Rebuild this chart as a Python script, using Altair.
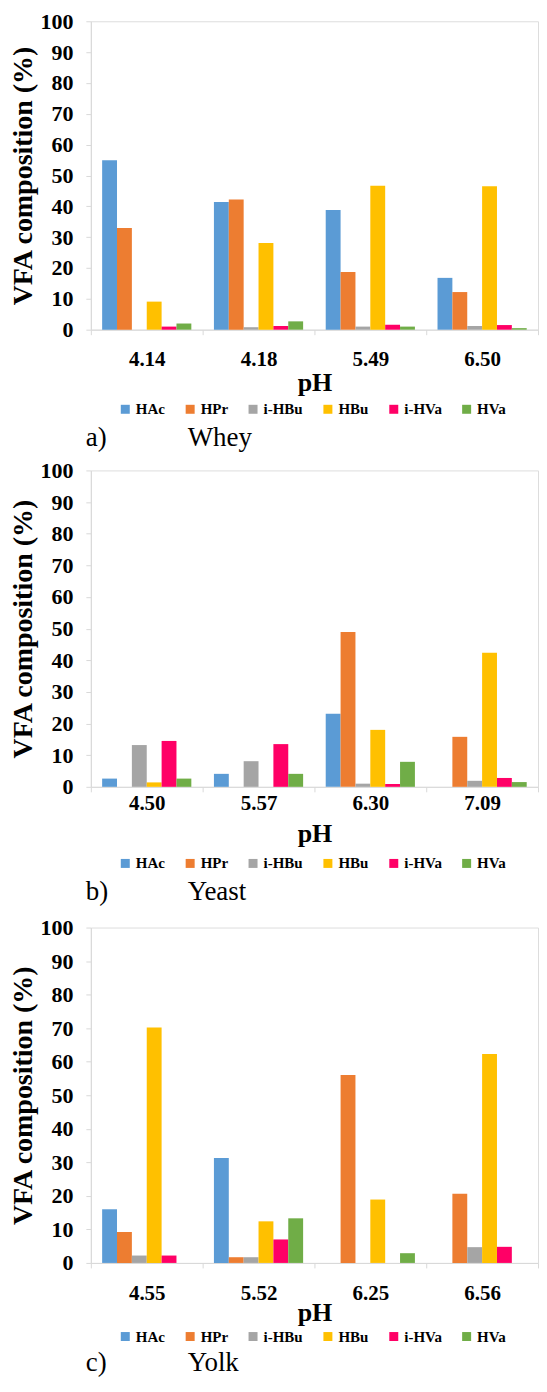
import altair as alt
import pandas as pd

acids = ["HAc", "HPr", "i-HBu", "HBu", "i-HVa", "HVa"]
acid_colors = ["#5B9BD5", "#ED7D31", "#A5A5A5", "#FFC000", "#FF0066", "#70AD47"]

# a) Whey
whey_ph = ["4.14", "4.18", "5.49", "6.50"]
whey_HAc = [54.9, 41.4, 38.8, 16.8]
whey_HPr = [33.0, 42.2, 18.7, 12.2]
whey_iHBu = [0.0, 0.8, 1.0, 1.2]
whey_HBu = [9.1, 28.1, 46.7, 46.5]
whey_iHVa = [1.0, 1.2, 1.6, 1.5]
whey_HVa = [2.0, 2.7, 1.0, 0.5]

# b) Yeast
yeast_ph = ["4.50", "5.57", "6.30", "7.09"]
yeast_HAc = [2.6, 4.1, 23.1, 0.0]
yeast_HPr = [0.0, 0.0, 48.9, 15.8]
yeast_iHBu = [13.2, 8.1, 1.0, 1.9]
yeast_HBu = [1.4, 0.0, 18.0, 42.4]
yeast_iHVa = [14.5, 13.5, 0.9, 2.8]
yeast_HVa = [2.6, 4.1, 7.9, 1.5]

# c) Yolk
yolk_ph = ["4.55", "5.52", "6.25", "6.56"]
yolk_HAc = [16.0, 31.3, 0.0, 0.0]
yolk_HPr = [9.2, 1.7, 56.0, 20.6]
yolk_iHBu = [2.2, 1.7, 0.0, 4.7]
yolk_HBu = [70.2, 12.4, 18.9, 62.3]
yolk_iHVa = [2.2, 7.0, 0.0, 4.8]
yolk_HVa = [0.0, 13.3, 2.9, 0.0]

y_ticks = [0, 10, 20, 30, 40, 50, 60, 70, 80, 90, 100]
AXIS_GRAY = "#D9D9D9"
PLOT_W = 448
FONT = "Liberation Serif"


def panel(ph, series, letter, name, height, lab_pad, title_pad, legend_dy, cap_dy):
    rows = []
    for acid, vals in zip(acids, series):
        for p, v in zip(ph, vals):
            rows.append({"pH": p, "acid": acid, "value": v})
    df = pd.DataFrame(rows)

    bars = alt.Chart(df).mark_bar().encode(
        x=alt.X(
            "pH:N",
            sort=ph,
            scale=alt.Scale(paddingInner=0, paddingOuter=0),
            axis=alt.Axis(
                title="pH",
                labelAngle=0,
                tickBand="extent",
                ticks=True,
                tickSize=5,
                tickColor=AXIS_GRAY,
                domainColor=AXIS_GRAY,
                labelFont=FONT,
                labelFontSize=21,
                labelFontWeight="bold",
                labelColor="black",
                labelPadding=lab_pad,
                titleFont=FONT,
                titleFontSize=26,
                titleFontWeight="bold",
                titleColor="black",
                titlePadding=title_pad,
            ),
        ),
        xOffset=alt.XOffset(
            "acid:N", sort=acids, scale=alt.Scale(paddingInner=0, paddingOuter=0.76)
        ),
        y=alt.Y(
            "value:Q",
            scale=alt.Scale(domain=[0, 100], nice=False),
            axis=alt.Axis(
                values=y_ticks,
                title="VFA composition (%)",
                grid=False,
                tickSize=5,
                tickColor=AXIS_GRAY,
                domainColor=AXIS_GRAY,
                labelFont=FONT,
                labelFontSize=22,
                labelFontWeight="bold",
                labelColor="black",
                labelPadding=13,
                titleFont=FONT,
                titleFontSize=28,
                titleFontWeight="bold",
                titleColor="black",
                titlePadding=2,
            ),
        ),
        color=alt.Color(
            "acid:N",
            sort=acids,
            scale=alt.Scale(domain=acids, range=acid_colors),
            legend=alt.Legend(
                orient="none",
                legendX=27,
                legendY=height + legend_dy,
                direction="horizontal",
                title=None,
                symbolType="square",
                symbolSize=81,
                symbolStrokeWidth=0,
                labelFont=FONT,
                labelFontSize=15,
                labelFontWeight="bold",
                labelColor="black",
                labelOffset=3,
                columnPadding=17,
            ),
        ),
    )

    cap_letter = alt.Chart(pd.DataFrame({"t": [letter]})).mark_text(
        align="left", baseline="middle", font=FONT, fontSize=27, color="black"
    ).encode(x=alt.value(-5), y=alt.value(height + cap_dy), text="t:N")

    cap_name = alt.Chart(pd.DataFrame({"t": [name]})).mark_text(
        align="left", baseline="middle", font=FONT, fontSize=27, color="black"
    ).encode(x=alt.value(97), y=alt.value(height + cap_dy), text="t:N")

    return alt.layer(bars, cap_letter, cap_name).properties(width=PLOT_W, height=height)


pa = panel(
    whey_ph,
    [whey_HAc, whey_HPr, whey_iHBu, whey_HBu, whey_iHVa, whey_HVa],
    "a)", "Whey", 309, 14, 0, 72, 109,
)
pb = panel(
    yeast_ph,
    [yeast_HAc, yeast_HPr, yeast_iHBu, yeast_HBu, yeast_iHVa, yeast_HVa],
    "b)", "Yeast", 317, 1, 7, 69, 105,
)
pc = panel(
    yolk_ph,
    [yolk_HAc, yolk_HPr, yolk_iHBu, yolk_HBu, yolk_iHVa, yolk_HVa],
    "c)", "Yolk", 336, 15, -4, 66, 100,
)

top_pair = (
    alt.vconcat(pa, pb, spacing=6)
    .resolve_scale(color="independent")
    .resolve_legend(color="independent")
)

chart = (
    alt.vconcat(top_pair, pc, spacing=10)
    .resolve_scale(color="independent")
    .resolve_legend(color="independent")
    .properties(padding={"left": 1, "top": 0, "right": 0, "bottom": 0})
    .configure_view(stroke=None)
    .configure(background="white")
)

chart.save("out.html", embed_options={"renderer": "svg", "actions": False})
